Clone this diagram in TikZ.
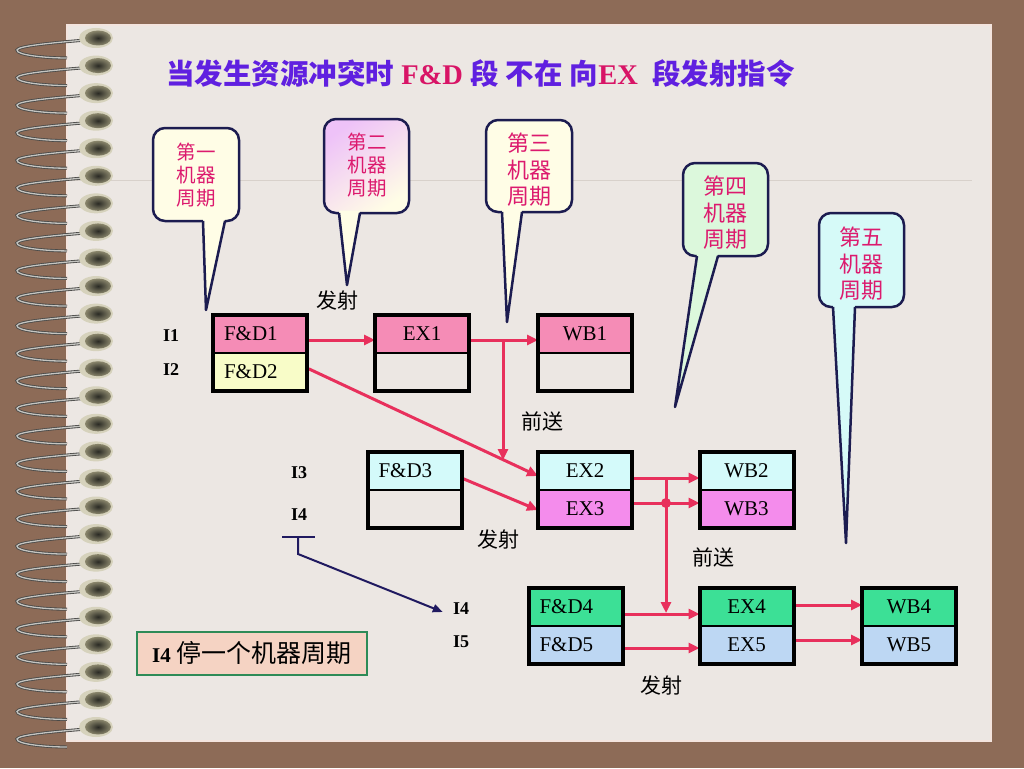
\documentclass[tikz,border=0pt]{standalone}
\usepackage{fontspec}
\setmainfont{Liberation Serif}
\newfontfamily\cjk{Noto Sans CJK SC}
\usetikzlibrary{arrows.meta}
\definecolor{bgbrown}{HTML}{8D6B57}
\definecolor{paper}{HTML}{ECE7E3}
\definecolor{paperedge}{HTML}{F3E4DE}
\definecolor{ruleline}{HTML}{D8D1CB}
\definecolor{titleblue}{HTML}{6020E0}
\definecolor{titlered}{HTML}{D81466}
\definecolor{calloutred}{HTML}{DC1A6E}
\definecolor{navyb}{HTML}{1C1C50}
\definecolor{cream}{HTML}{FFFDE6}
\definecolor{lilac}{HTML}{EEC2F8}
\definecolor{mint}{HTML}{DCF8DC}
\definecolor{icecyan}{HTML}{D6FAF8}
\definecolor{pinkc}{HTML}{F58CB6}
\definecolor{yellowc}{HTML}{F8FCC8}
\definecolor{cyanc}{HTML}{D4FAFA}
\definecolor{magc}{HTML}{F48CEC}
\definecolor{greenc}{HTML}{3CE096}
\definecolor{bluec}{HTML}{BDD7F3}
\definecolor{arrowred}{HTML}{E8305C}
\definecolor{stallnavy}{HTML}{201A60}
\definecolor{peach}{HTML}{F5D3C3}
\definecolor{boxgreen}{HTML}{2E8B57}
\definecolor{wiredark}{HTML}{4A4A48}
\definecolor{wirelight}{HTML}{C4C4C0}
\definecolor{holehalo}{HTML}{D6D2BC}
\definecolor{holedark}{HTML}{2A2A24}
\definecolor{holemid}{HTML}{8A866C}
\tikzset{
  cell/.style={minimum width=94pt, minimum height=38pt, inner sep=0pt, outer sep=0pt,
    draw=black, line width=1.5pt, font=\fontsize{21}{24}\selectfont},
  fdcell/.style={cell, text width=72pt, inner xsep=11pt, align=left},
  frame/.style={draw=black, line width=4pt},
  flow/.style={draw=arrowred, line width=3pt, shorten <=2pt,
    -{Triangle[length=11pt,width=10pt]}},
  cbox/.style={draw=navyb, line width=2.5pt, rounded corners=12pt},
  ctail/.style={draw=navyb, line width=2.5pt, line join=round},
  ctext/.style={font=\cjk\fontsize{22}{26.5}\selectfont, text=calloutred, align=center, inner sep=0pt},
  ctextsmall/.style={font=\cjk\fontsize{19.5}{23}\selectfont, text=calloutred, align=center, inner sep=0pt},
  ilabel/.style={font=\fontsize{18}{20}\selectfont\bfseries, inner sep=0pt},
  cjklabel/.style={font=\cjk\fontsize{21}{24}\selectfont, inner sep=0pt},
  stall/.style={draw=stallnavy, line width=2pt},
}
\begin{document}
\begin{tikzpicture}[x=1pt,y=-1pt]
\useasboundingbox (0,0) rectangle (1024,768);
\fill[bgbrown] (0,0) rectangle (1024,768);
% paper
\fill[paper] (67,25) rectangle (991,741);
\draw[paperedge, line width=1.5pt] (67,25) rectangle (991,741);
\draw[ruleline, line width=1pt] (67,180) -- (972,180);
% spiral binding
\foreach \i in {0,...,25} {
  \pgfmathsetmacro\yy{38+27.56*\i}
  \draw[wiredark, line width=3pt] (86,\yy+2) .. controls (50,\yy+5) and (18,\yy+8) .. (17,\yy+12)
     .. controls (16,\yy+17) and (45,\yy+20) .. (67,\yy+20);
  \draw[wirelight, line width=1.3pt] (86,\yy+2) .. controls (50,\yy+5) and (18,\yy+8) .. (17,\yy+12)
     .. controls (16,\yy+17) and (45,\yy+20) .. (67,\yy+20);
  \fill[holehalo] (96,\yy) ellipse [x radius=17pt, y radius=10pt];
  \shade[inner color=holedark, outer color=holemid] (98,\yy) ellipse [x radius=13pt, y radius=7.5pt];
}
% title
\node[anchor=west, inner sep=0pt, text=titleblue, font=\fontsize{28.5}{32}\selectfont] (title) at (166,74)
  {{\cjk\bfseries 当发生资源冲突时} \textcolor{titlered}{\bfseries F\&D} {\cjk\bfseries 段} {\cjk\bfseries 不在} {\cjk\bfseries 向}\textcolor{titlered}{\bfseries EX}\ \ {\cjk\bfseries 段发射指令}};
% callout 1
\draw[cbox, fill=cream] (153,128) rectangle (239,221);
\fill[cream] (203,218.5) -- (206,310) -- (225,218.5) -- cycle;
\draw[ctail] (203,221) -- (206,310) -- (225,221);
\node[ctextsmall] (c1) at (196,175) {第一\\机器\\周期};
% callout 2
\draw[cbox, top color=lilac, bottom color=cream, shading angle=35] (324,119) rectangle (409,213);
\fill[cream] (339,210.5) -- (347,285) -- (360,210.5) -- cycle;
\draw[ctail] (339,213) -- (347,285) -- (360,213);
\node[ctextsmall] (c2) at (367,165) {第二\\机器\\周期};
% callout 3
\draw[cbox, fill=cream] (486,120) rectangle (572,212);
\fill[cream] (502,209.5) -- (507,322) -- (522,209.5) -- cycle;
\draw[ctail] (502,212) -- (507,322) -- (522,212);
\node[ctext] (c3) at (529,170) {第三\\机器\\周期};
% callout 4
\draw[cbox, fill=mint] (683,163) rectangle (768,256);
\fill[mint] (697,253.5) -- (675,407) -- (718,253.5) -- cycle;
\draw[ctail] (697,256) -- (675,407) -- (718,256);
\node[ctext] (c4) at (725,213) {第四\\机器\\周期};
% callout 5
\draw[cbox, fill=icecyan] (819,213) rectangle (904,307);
\fill[icecyan] (833,304.5) -- (846,543) -- (855,304.5) -- cycle;
\draw[ctail] (833,307) -- (846,543) -- (855,307);
\node[ctext] (c5) at (861,264) {第五\\机器\\周期};
% instruction labels
\node[ilabel] (i1) at (171,336) {I1};
\node[ilabel] (i2) at (171,370) {I2};
\node[ilabel] (i3) at (299,473) {I3};
\node[ilabel] (i4) at (299,515) {I4};
\node[ilabel] (i4b) at (461,609) {I4};
\node[ilabel] (i5) at (461,642) {I5};
% stage cells
\node[fdcell, fill=pinkc] (fd1) at (260,334) {F\&D1};
\node[fdcell, fill=yellowc] (fd2) at (260,372) {F\&D2};
\node[cell, fill=pinkc] (ex1) at (422,334) {EX1};
\node[cell] (ex1b) at (422,372) {};
\node[cell, fill=pinkc] (wb1) at (585,334) {WB1};
\node[cell] (wb1b) at (585,372) {};
\node[fdcell, fill=cyanc] (fd3) at (414.5,471) {F\&D3};
\node[cell] (fd3b) at (414.5,509) {};
\node[cell, fill=cyanc] (ex2) at (585,471) {EX2};
\node[cell, fill=magc] (ex3) at (585,509) {EX3};
\node[cell, fill=cyanc] (wb2) at (746.5,471) {WB2};
\node[cell, fill=magc] (wb3) at (746.5,509) {WB3};
\node[fdcell, fill=greenc] (fd4) at (575.5,607) {F\&D4};
\node[fdcell, fill=bluec] (fd5) at (575.5,645) {F\&D5};
\node[cell, fill=greenc] (ex4) at (746.5,607) {EX4};
\node[cell, fill=bluec] (ex5) at (746.5,645) {EX5};
\node[cell, fill=greenc] (wb4) at (909,607) {WB4};
\node[cell, fill=bluec] (wb5) at (909,645) {WB5};
% arrows
\draw[flow] ([yshift=-6pt]fd1.east) -- ([yshift=-6pt]ex1.west);
\draw[flow] ([yshift=-6pt]ex1.east) -- ([yshift=-6pt]wb1.west);
\coordinate (fw1) at (503,340);
\coordinate (fw1e) at (503,460);
\draw[flow, shorten <=0pt] (fw1) -- (fw1e);
\draw[flow] ([yshift=4pt]fd2.east) -- ([yshift=-5pt]ex2.west);
\draw[flow] ([yshift=-7pt]fd3.east) -- ([yshift=-1pt]ex3.west);
\draw[flow] ([yshift=-7pt]ex2.east) -- ([yshift=-7pt]wb2.west);
\draw[flow] ([yshift=6pt]ex3.east) -- ([yshift=6pt]wb3.west);
\coordinate (fw2) at (666,478);
\coordinate (fw2e) at (666,613);
\draw[flow, shorten <=0pt] (fw2) -- (fw2e);
\fill[arrowred] (666,503) circle[radius=5pt];
\draw[flow] ([yshift=-7pt]fd4.east) -- ([yshift=-7pt]ex4.west);
\draw[flow] ([yshift=-3pt]fd5.east) -- ([yshift=-3pt]ex5.west);
\draw[flow] ([yshift=2pt]ex4.east) -- ([yshift=2pt]wb4.west);
\draw[flow] ([yshift=5pt]ex5.east) -- ([yshift=5pt]wb5.west);
% frames
\draw[frame] (fd1.north west) rectangle (fd2.south east);
\draw[frame] (ex1.north west) rectangle (ex1b.south east);
\draw[frame] (wb1.north west) rectangle (wb1b.south east);
\draw[frame] (fd3.north west) rectangle (fd3b.south east);
\draw[frame] (ex2.north west) rectangle (ex3.south east);
\draw[frame] (wb2.north west) rectangle (wb3.south east);
\draw[frame] (fd4.north west) rectangle (fd5.south east);
\draw[frame] (ex4.north west) rectangle (ex5.south east);
\draw[frame] (wb4.north west) rectangle (wb5.south east);
% text labels
\node[cjklabel] (fs1) at (337,301) {发射};
\node[cjklabel] (qs1) at (542,421) {前送};
\node[cjklabel] (fs2) at (498,540) {发射};
\node[cjklabel] (qs2) at (713,557) {前送};
\node[cjklabel] (fs3) at (661,685) {发射};
% stall symbol
\coordinate (tl) at (282,537);
\coordinate (tr) at (315,537);
\coordinate (tm) at (298,537);
\coordinate (tb) at (298,554);
\draw[stall] (tl) -- (tr);
\draw[stall, -{Triangle[length=10pt,width=8pt]}] (tm) -- (tb) -- ([xshift=-10pt,yshift=-3pt]i4b.west);
% stall note
\node[draw=boxgreen, line width=2pt, fill=peach, minimum width=230pt, minimum height=43pt, inner sep=0pt] (note) at (252,653.5)
  {{\fontsize{21}{24}\selectfont\bfseries I4}\hspace{6pt}{\cjk\fontsize{25}{28}\selectfont 停一个机器周期}};
\end{tikzpicture}
\end{document}
